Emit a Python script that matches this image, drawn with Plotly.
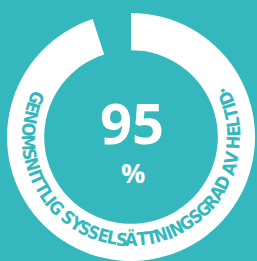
import numpy as np
import plotly.graph_objects as go

# ---- data ----
value = 95
remaining = 100 - value
center_label = "95"
unit_label = "%"
ring_text = "GENOMSNITTLIG SYSSELSÄTTNINGSGRAD AV HELTID·"

# ---- style / geometry ----
W, H = 257, 261
TEAL = "#35B8BD"
cx, cy = 131, 137          # ring centre in px
R_out = 124
hole = 0.70
r_text = 102.5
theta_start, theta_end = 157.5, 387.0
FONT = "DejaVu Sans Condensed"

fig = go.Figure(go.Pie(
    values=[value, remaining], sort=False, direction="clockwise", rotation=0,
    marker=dict(colors=["white", "rgba(0,0,0,0)"], line=dict(width=0)),
    hole=hole, textinfo="none", hoverinfo="skip", showlegend=False,
    domain=dict(x=[(cx - R_out) / W, (cx + R_out) / W],
                y=[1 - (cy + R_out) / H, 1 - (cy - R_out) / H]),
))

# curved text along the ring (relative advance widths)
cw = {"G": .74, "E": .62, "N": .75, "O": .77, "M": .90, "S": .65, "I": .34,
      "T": .61, "L": .57, " ": .31, "Y": .65, "Ä": .70, "R": .69, "A": .70,
      "D": .75, "V": .70, "H": .75, "·": .36}
ws = np.array([cw.get(c, .7) for c in ring_text])
centers = np.cumsum(ws) - ws / 2
frac = (centers - centers[0]) / (centers[-1] - centers[0])
thetas = theta_start + frac * (theta_end - theta_start)

annotations = []
for ch, th in zip(ring_text, thetas):
    if ch == " ":
        continue
    t = np.radians(th)
    px = cx + r_text * np.cos(t)
    py = cy - r_text * np.sin(t)
    annotations.append(dict(
        x=px / W, y=1 - py / H, xref="paper", yref="paper", text=ch,
        showarrow=False, textangle=270 - th, xanchor="center", yanchor="middle",
        font=dict(family=FONT, size=18, color=TEAL, weight="bold"),
    ))

annotations.append(dict(x=131.5 / W, y=1 - 122.5 / H, xref="paper", yref="paper",
                        text=center_label, showarrow=False, xanchor="center", yanchor="middle",
                        font=dict(family="Open Sans", size=56, color="white", weight="bold")))
annotations.append(dict(x=132.5 / W, y=1 - 172 / H, xref="paper", yref="paper",
                        text=unit_label, showarrow=False, xanchor="center", yanchor="middle",
                        font=dict(family="Open Sans", size=27, color="white", weight="bold")))

fig.update_layout(width=W, height=H, margin=dict(l=0, r=0, t=0, b=0),
                  paper_bgcolor=TEAL, plot_bgcolor=TEAL, annotations=annotations)
fig.write_html("out.html", config={"displayModeBar": False},
               post_script="document.body.style.margin='0';document.body.style.background='%s';" % TEAL)
